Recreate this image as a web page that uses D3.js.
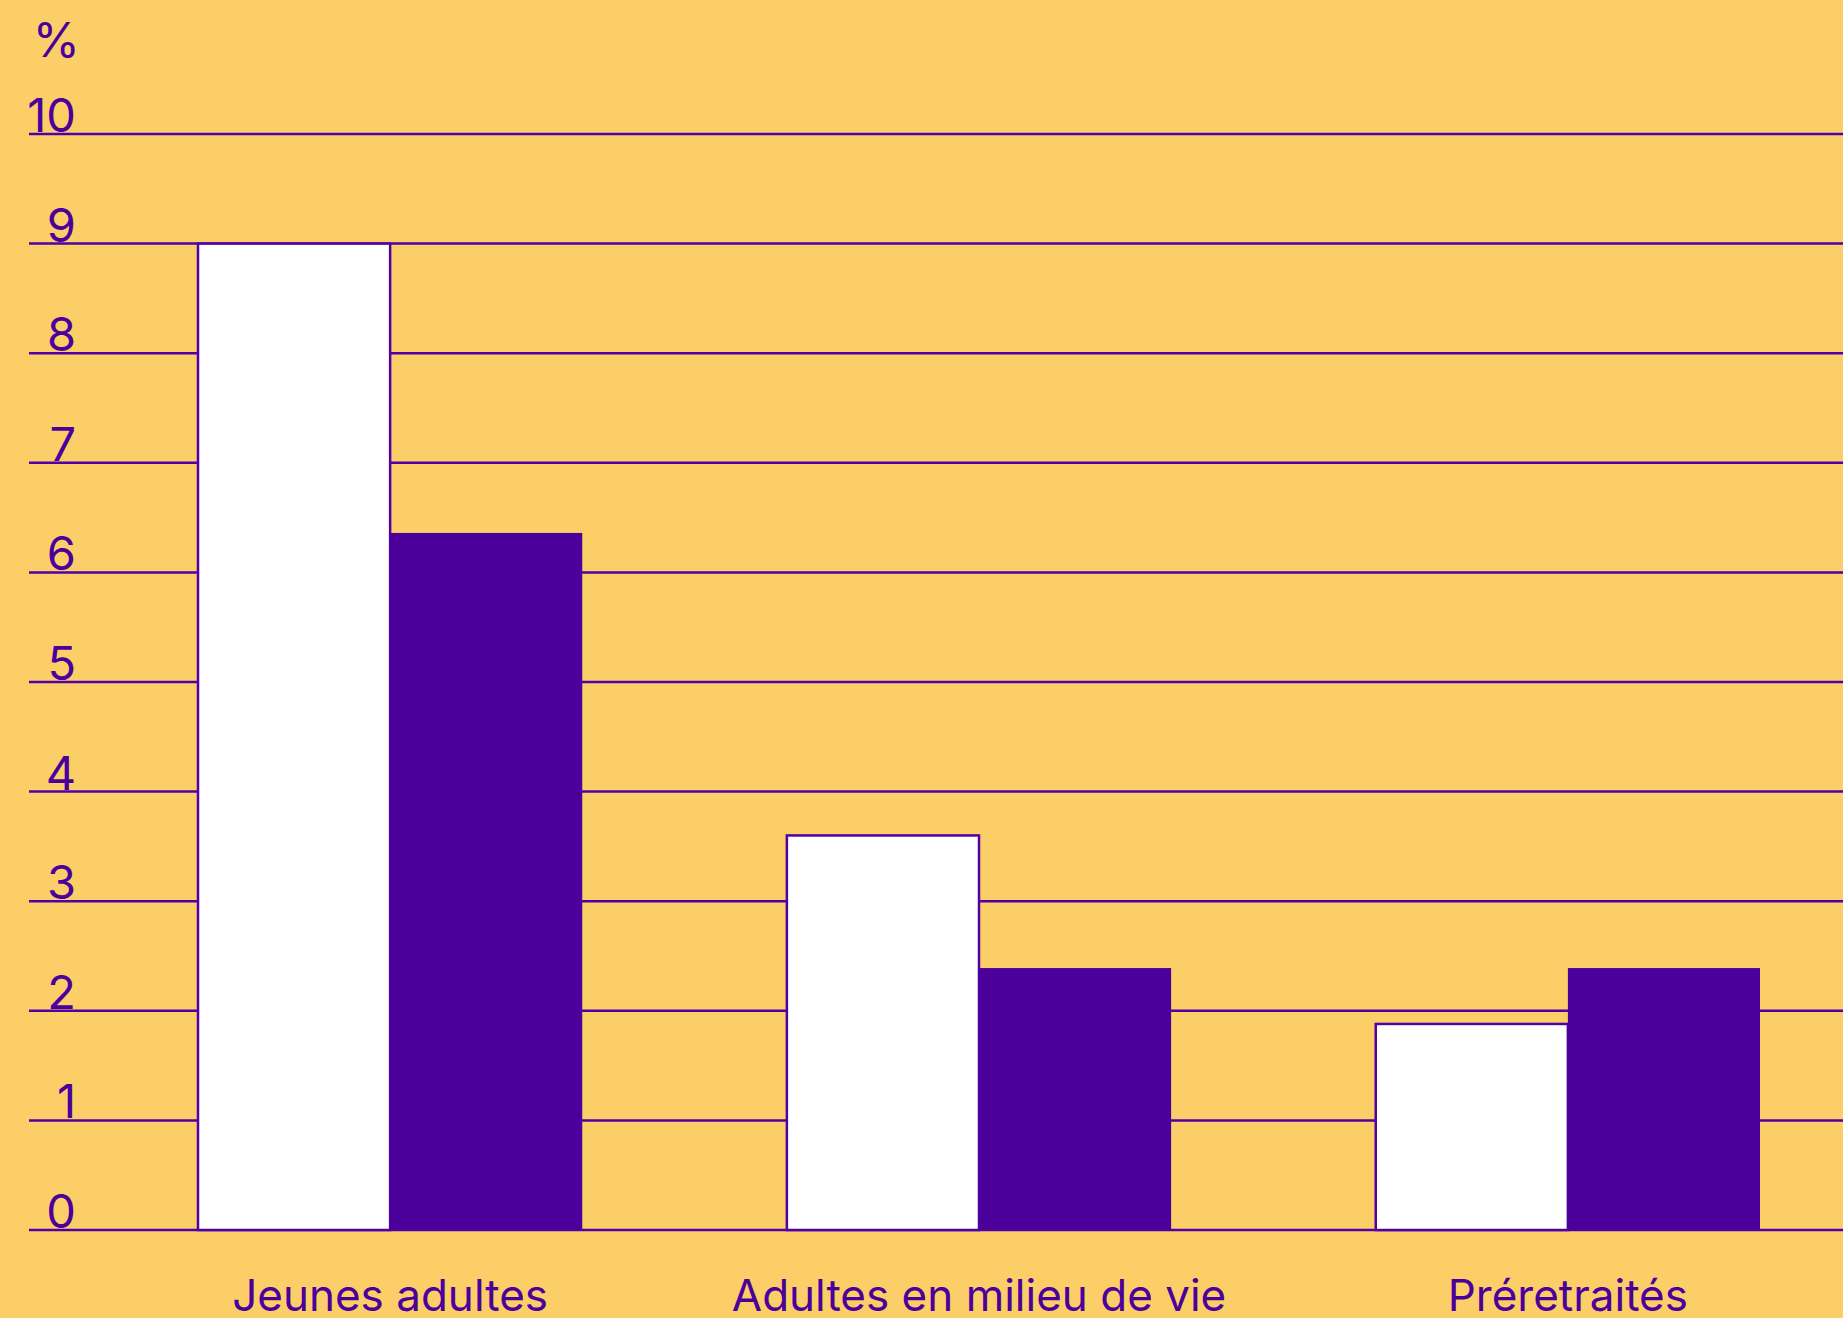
<!DOCTYPE html>
<html>
<head>
<meta charset="utf-8">
<script src="https://cdn.jsdelivr.net/npm/d3@7"></script>
<style>
  html, body { margin: 0; padding: 0; background: #FCCE68; }
  svg { display: block; }
</style>
</head>
<body>
<svg id="chart" width="1843" height="1318"></svg>
<script>
const categories = ["Jeunes adultes", "Adultes en milieu de vie", "Préretraités"];
const seriesNames = ["Série 1", "Série 2"];
const series1 = [9.0, 3.6, 1.88];
const series2 = [6.36, 2.39, 2.39];
const yTicks = [0, 1, 2, 3, 4, 5, 6, 7, 8, 9, 10];
const yUnit = "%";

const W = 1843, H = 1318;
const purple = "#4B009C";
const lineColor = "#5000A6";
const bg = "#FCCE68";
const font = "Inter, 'Noto Sans', sans-serif";

const svg = d3.select("#chart");
svg.append("rect").attr("width", W).attr("height", H).attr("fill", bg);

const y = d3.scaleLinear().domain([0, 10]).range([1230, 134]);
const x0 = d3.scaleBand().domain(categories).range([198, 1760]).paddingInner(0.3475).paddingOuter(0);
const x1 = d3.scaleBand().domain(seriesNames).range([0, x0.bandwidth()]).padding(0);

// gridlines
svg.append("g").selectAll("line").data(yTicks).join("line")
  .attr("x1", 29).attr("x2", W)
  .attr("y1", d => y(d)).attr("y2", d => y(d))
  .attr("stroke", lineColor).attr("stroke-width", 2.5);

// tick labels
svg.append("g").selectAll("text").data(yTicks).join("text")
  .attr("x", 76).attr("y", d => y(d) - 2)
  .attr("text-anchor", "end")
  .attr("font-family", font).attr("font-size", 47)
  .attr("fill", purple)
  .text(d => d);

svg.append("text").attr("x", 80).attr("y", 57)
  .attr("text-anchor", "end")
  .attr("font-family", font).attr("font-size", 48)
  .attr("fill", purple).text(yUnit);

// bars
const data = categories.map((c, i) => ({ c, vals: [
  { s: seriesNames[0], v: series1[i] },
  { s: seriesNames[1], v: series2[i] }
]}));

const g = svg.append("g").selectAll("g").data(data).join("g")
  .attr("transform", d => `translate(${x0(d.c)},0)`);

g.selectAll("rect").data(d => d.vals).join("rect")
  .attr("x", d => x1(d.s))
  .attr("y", d => y(d.v))
  .attr("width", x1.bandwidth())
  .attr("height", d => y(0) - y(d.v))
  .attr("fill", d => d.s === seriesNames[0] ? "#FFFFFF" : purple)
  .attr("stroke", d => d.s === seriesNames[0] ? lineColor : "none")
  .attr("stroke-width", 2.5);

// category labels
svg.append("g").selectAll("text").data(categories).join("text")
  .attr("x", d => x0(d) + x0.bandwidth() / 2)
  .attr("y", 1311)
  .attr("text-anchor", "middle")
  .attr("font-family", font).attr("font-size", 44)
  .attr("fill", purple)
  .text(d => d);
</script>
</body>
</html>
